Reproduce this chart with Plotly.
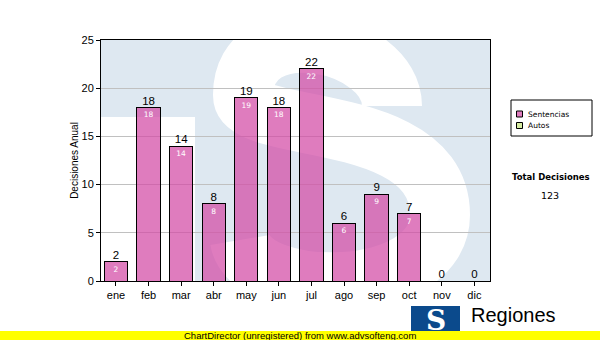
import base64
import plotly.graph_objects as go

# ---- data ----
months = ["ene", "feb", "mar", "abr", "may", "jun", "jul", "ago", "sep", "oct", "nov", "dic"]
sentencias = [2, 18, 14, 8, 19, 18, 22, 6, 9, 7, 0, 0]
autos = [0, 0, 0, 0, 0, 0, 0, 0, 0, 0, 0, 0]
series_names = ["Sentencias", "Autos"]
series_colors = ["rgba(211,74,165,0.72)", "#d6eca2"]
y_ticks = [0, 5, 10, 15, 20, 25]
y_title = "Decisiones Anual"
total_title = "Total Decisiones"
footer_text = "ChartDirector (unregistered) from www.advsofteng.com"
logo_text = "Regiones"

totals = [s + a for s, a in zip(sentencias, autos)]
grand_total = sum(totals)

# ---- layout geometry (pixels) ----
W, H = 600, 340
ML, MR, MT, MB = 101, 110, 40, 59
PW, PH = W - ML - MR, H - MT - MB


def px(x):
    return (x - ML) / PW


def py(y):
    return (H - MB - y) / PH


LB = "#dee8f1"
# watermark (faded logo: white S on light blue) behind the plot area, in page pixels
s_path = ("M 392 106 C 392 40, 243 10, 243 95 "
          "C 243 135, 440 110, 440 215 "
          "C 440 300, 250 300, 240 240")
svg = f'''<svg xmlns="http://www.w3.org/2000/svg" width="{PW}" height="{PH}" viewBox="0 0 {PW} {PH}" preserveAspectRatio="none">
<g transform="translate({-ML},{-MT})">
<rect x="{ML}" y="{MT}" width="{PW}" height="{PH}" fill="{LB}"/>
<rect x="{ML}" y="117" width="94" height="200" fill="white"/>
<path d="{s_path}" fill="none" stroke="white" stroke-width="60" stroke-linecap="butt"/>
</g>
</svg>'''
svg_uri = "data:image/svg+xml;base64," + base64.b64encode(svg.encode()).decode()

fig = go.Figure()

fig.add_trace(go.Bar(
    x=months, y=sentencias, name=series_names[0],
    marker=dict(color=series_colors[0], line=dict(color="black", width=1)),
    text=[str(v) if v else "" for v in sentencias],
    textposition="inside", insidetextanchor="end", textangle=0,
    constraintext="none",
    textfont=dict(family="DejaVu Sans", size=7.5, color="white"),
    hoverinfo="x+y",
))
fig.add_trace(go.Bar(
    x=months, y=autos, name=series_names[1],
    marker=dict(color=series_colors[1], line=dict(color="black", width=1)),
    hoverinfo="x+y",
))
fig.add_trace(go.Scatter(
    x=months, y=totals, mode="text",
    text=[str(v) for v in totals], textposition="top center",
    textfont=dict(family="Liberation Sans, Arial", size=11.5, color="black"),
    cliponaxis=False, hoverinfo="skip",
))

shapes = []
# legend box
shapes.append(dict(type="rect", xref="paper", yref="paper",
                   x0=px(511), x1=px(592), y0=py(100), y1=py(136),
                   line=dict(color="black", width=1), fillcolor="white", layer="above"))
legend_rows = [114, 125.5]
annotations = []
for name, color, yc in zip(series_names, series_colors, legend_rows):
    shapes.append(dict(type="rect", xref="paper", yref="paper",
                       x0=px(516.5), x1=px(522.5), y0=py(yc - 3), y1=py(yc + 3),
                       line=dict(color="black", width=1), fillcolor=color, layer="above"))
    annotations.append(dict(xref="paper", yref="paper", x=px(526), y=py(yc),
                            text=name, showarrow=False, xanchor="left", yanchor="middle",
                            font=dict(family="DejaVu Sans", size=7.5, color="black")))

annotations.append(dict(xref="paper", yref="paper", x=px(551), y=py(177),
                        text=f"<b>{total_title}</b>", showarrow=False,
                        xanchor="center", yanchor="middle",
                        font=dict(family="DejaVu Sans", size=8.5, color="black")))
annotations.append(dict(xref="paper", yref="paper", x=px(550), y=py(196),
                        text=str(grand_total), showarrow=False,
                        xanchor="center", yanchor="middle",
                        font=dict(family="DejaVu Sans", size=9.5, color="black")))

# bottom-right logo
shapes.append(dict(type="rect", xref="paper", yref="paper",
                   x0=px(411), x1=px(460), y0=py(306), y1=py(340),
                   line=dict(width=0), fillcolor="#0b4a8c", layer="above"))
annotations.append(dict(xref="paper", yref="paper", x=px(436), y=py(320),
                        text="<b>S</b>", showarrow=False, xanchor="center", yanchor="middle",
                        font=dict(family="DejaVu Serif", size=28, color="white")))
annotations.append(dict(xref="paper", yref="paper", x=px(469), y=py(315),
                        text=logo_text, showarrow=False, xanchor="left", yanchor="middle",
                        font=dict(family="Liberation Sans, Arial", size=20, color="black")))

# yellow footer band
shapes.append(dict(type="rect", xref="paper", yref="paper",
                   x0=px(0), x1=px(W), y0=py(331), y1=py(H + 2),
                   line=dict(width=0), fillcolor="#ffff00", layer="above"))
annotations.append(dict(xref="paper", yref="paper", x=px(300), y=py(335.5),
                        text=footer_text, showarrow=False, xanchor="center", yanchor="middle",
                        font=dict(family="Liberation Sans, Arial", size=9.5, color="black")))

fig.update_layout(
    width=W, height=H,
    margin=dict(l=ML, r=MR, t=MT, b=MB, pad=0),
    paper_bgcolor="white", plot_bgcolor="white",
    barmode="stack", bargap=0.285,
    showlegend=False,
    shapes=shapes, annotations=annotations,
    images=[dict(source=svg_uri, xref="paper", yref="paper", x=0, y=1,
                 sizex=1, sizey=1, xanchor="left", yanchor="top",
                 sizing="stretch", layer="below")],
    xaxis=dict(type="category", categoryorder="array", categoryarray=months,
               range=[-0.46, 11.48],
               showline=True, linecolor="black", linewidth=1, mirror=True,
               ticks="outside", ticklen=4, tickcolor="black",
               tickfont=dict(family="Liberation Sans, Arial", size=11, color="black"),
               showgrid=False, zeroline=False, fixedrange=True),
    yaxis=dict(range=[0, 25], tickvals=y_ticks,
               showline=True, linecolor="black", linewidth=1, mirror=True,
               ticks="outside", ticklen=4, tickcolor="black",
               tickfont=dict(family="Liberation Sans, Arial", size=11, color="black"),
               showgrid=True, gridcolor="#c0c0c0", gridwidth=1, zeroline=False,
               title=dict(text=y_title, standoff=1,
                          font=dict(family="Liberation Sans, Arial", size=10, color="black")),
               fixedrange=True),
)

fig.write_html("out.html")
